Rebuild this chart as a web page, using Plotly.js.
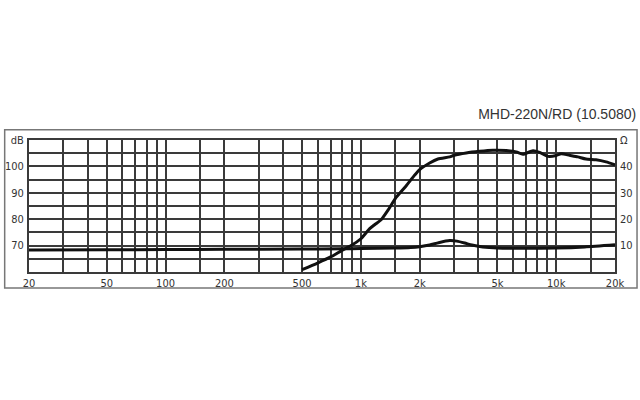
<!DOCTYPE html>
<html>
<head>
<meta charset="utf-8">
<script src="https://cdn.plot.ly/plotly-3.0.1.min.js"></script>
<style>
  html, body { margin: 0; padding: 0; background: #fff; }
  #chart { width: 640px; height: 400px; }
</style>
</head>
<body>
<div id="chart"></div>
<script>
// frequency response (dB, left axis)
var splFreq = [500, 600, 700, 800, 900, 1000, 1110, 1180, 1270, 1380, 1500, 1700, 1880, 2000, 2250, 2480, 2850, 3000, 3460, 4050, 4740, 5550, 6240, 6750, 7600, 8220, 9060, 10000, 10600, 11700, 12900, 14200, 16000, 18000, 20000];
var splDb = [60.9, 63.4, 65.7, 68.2, 70.2, 72.6, 76.4, 78.0, 79.8, 83.5, 87.8, 92.5, 96.6, 98.8, 101.3, 102.8, 103.6, 104.2, 105.1, 105.7, 106.1, 106.0, 105.5, 104.6, 105.9, 105.3, 103.8, 104.1, 104.8, 104.2, 103.6, 102.8, 102.5, 101.7, 100.6];

// impedance (ohm, right axis)
var impFreq = [20, 50, 100, 200, 500, 800, 1000, 1500, 1800, 2000, 2250, 2500, 2850, 3100, 3400, 3700, 4200, 5000, 7000, 10000, 14000, 20000];
var impOhm = [8.3, 8.4, 8.5, 8.6, 8.7, 8.8, 8.9, 9.1, 9.3, 9.6, 10.2, 11.1, 11.9, 11.7, 11.0, 10.2, 9.5, 9.1, 9.0, 9.1, 9.5, 10.3];

// axis ticks / grid
var freqGrid = [20, 30, 40, 50, 60, 70, 80, 90, 100, 150, 200, 300, 400, 500, 600, 700, 800, 900, 1000,
                1500, 2000, 3000, 4000, 5000, 6000, 7000, 8000, 9000, 10000, 15000, 20000];
var freqLabels = {20: '20', 50: '50', 100: '100', 200: '200', 500: '500', 1000: '1k', 2000: '2k', 5000: '5k', 10000: '10k', 20000: '20k'};
var dbGrid = [60, 65, 70, 75, 80, 85, 90, 95, 100, 105, 110];
var dbText = ['', '', '70', '', '80', '', '90', '', '100', '', 'dB'];
var ohmTicks = [10, 20, 30, 40, 50];
var ohmText = ['10', '20', '30', '40', '\u03a9'];
var chartTitle = 'MHD-220N/RD (10.5080)';

var freqText = freqGrid.map(function (f) { return freqLabels[f] || ''; });

var tickFont = {family: 'DejaVu Sans Condensed, DejaVu Sans, sans-serif', size: 11, color: '#333'};
var gridCol = '#3a3a3a';

var data = [
  {
    x: splFreq, y: splDb, type: 'scatter', mode: 'lines',
    line: {color: '#111', width: 3, shape: 'spline', smoothing: 0.6},
    hoverinfo: 'skip', showlegend: false
  },
  {
    x: impFreq, y: impOhm, type: 'scatter', mode: 'lines', yaxis: 'y2',
    line: {color: '#111', width: 3, shape: 'spline', smoothing: 0.6},
    hoverinfo: 'skip', showlegend: false
  }
];

var layout = {
  width: 640, height: 400,
  margin: {l: 29, r: 25, t: 140, b: 128, pad: 0},
  paper_bgcolor: '#fff', plot_bgcolor: '#fff',
  title: {
    text: chartTitle,
    font: {family: 'Liberation Sans, Arial, sans-serif', size: 14, color: '#333'},
    xref: 'container', yref: 'container',
    x: 0.994, xanchor: 'right', y: 0.715, yanchor: 'middle'
  },
  xaxis: {
    type: 'log',
    range: [Math.log10(20), Math.log10(20000)],
    tickmode: 'array', tickvals: freqGrid, ticktext: freqText,
    ticks: '', tickfont: tickFont,
    showgrid: true, gridcolor: gridCol, gridwidth: 2,
    showline: true, linecolor: gridCol, linewidth: 2, mirror: true,
    zeroline: false, fixedrange: true
  },
  yaxis: {
    range: [60, 110],
    tickmode: 'array', tickvals: dbGrid, ticktext: dbText,
    ticks: '', tickfont: tickFont, ticklabelstandoff: 1,
    showgrid: true, gridcolor: gridCol, gridwidth: 2,
    showline: true, linecolor: gridCol, linewidth: 2, mirror: true,
    zeroline: false, fixedrange: true
  },
  yaxis2: {
    overlaying: 'y', side: 'right',
    range: [0, 50],
    tickmode: 'array', tickvals: ohmTicks, ticktext: ohmText,
    ticks: '', tickfont: tickFont, ticklabelstandoff: 4,
    showgrid: false, zeroline: false, showline: false, fixedrange: true
  },
  shapes: [
    {
      type: 'rect', xref: 'paper', yref: 'paper',
      x0: -0.0415, x1: 1.0376, y0: -0.121, y1: 1.078,
      line: {color: '#777', width: 1.5}, layer: 'below'
    }
  ]
};

Plotly.newPlot('chart', data, layout, {displayModeBar: false, staticPlot: true});
</script>
</body>
</html>
